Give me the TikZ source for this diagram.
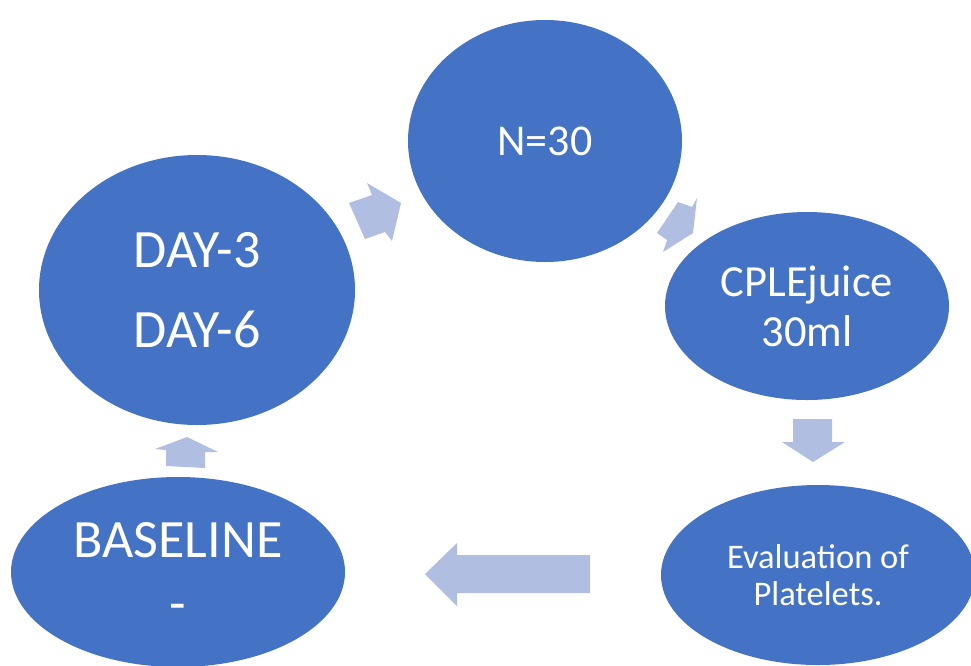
\documentclass[tikz,border=0pt]{standalone}
\usepackage{fontspec}
\setmainfont{Carlito}
\usetikzlibrary{shapes.geometric}
\definecolor{ovalblue}{HTML}{4472C4}
\definecolor{arrowblue}{HTML}{B0BFE1}
\begin{document}
\begin{tikzpicture}[x=1pt,y=-1pt,
  oval/.style={ellipse,fill=ovalblue,text=white,align=center,inner sep=0pt},
  blockarrow/.style={fill=arrowblue}]
\useasboundingbox (0,0) rectangle (971,665);
% the ovals of the cycle
\node[oval,minimum width=274,minimum height=242,font=\fontsize{44}{50}\selectfont] (count) at (545,141) {N=30};
\node[oval,minimum width=284,minimum height=188,font=\fontsize{44.5}{50}\selectfont] (juice) at (807,306) {CPLEjuice\\30ml};
\node[oval,minimum width=314,minimum height=180,font=\fontsize{34.5}{37}\selectfont] (eval) at (818,575) {Evaluation of\\Platelets.};
\node[oval,minimum width=334,minimum height=190,font=\fontsize{54}{64}\selectfont] (base) at (178,572) {BASELINE\\-};
\node[oval,minimum width=316,minimum height=270,font=\fontsize{54}{80}\selectfont] (day) at (197,290) {DAY-3\\DAY-6};
% block arrows between the ovals
\fill[blockarrow] (367,183) -- (372,195) -- (349,203) -- (365,239) -- (385,232) -- (392,241) -- (401,203) -- cycle;
\fill[blockarrow] (678,202) -- (692,207) -- (697,198) -- (693,233) -- (663,252) -- (667,240) -- (657,233) -- cycle;
\fill[blockarrow] (793,419) -- (832,419) -- (832,442) -- (845,442) -- (813,462) -- (782,442) -- (793,442) -- cycle;
\fill[blockarrow] (590,555) -- (457,555) -- (457,543) -- (425,574) -- (457,606) -- (457,593) -- (590,593) -- cycle;
\fill[blockarrow] (187,437) -- (218,452) -- (205,452) -- (205,468) -- (166,466) -- (166,450) -- (155,449) -- cycle;
\end{tikzpicture}
\end{document}
